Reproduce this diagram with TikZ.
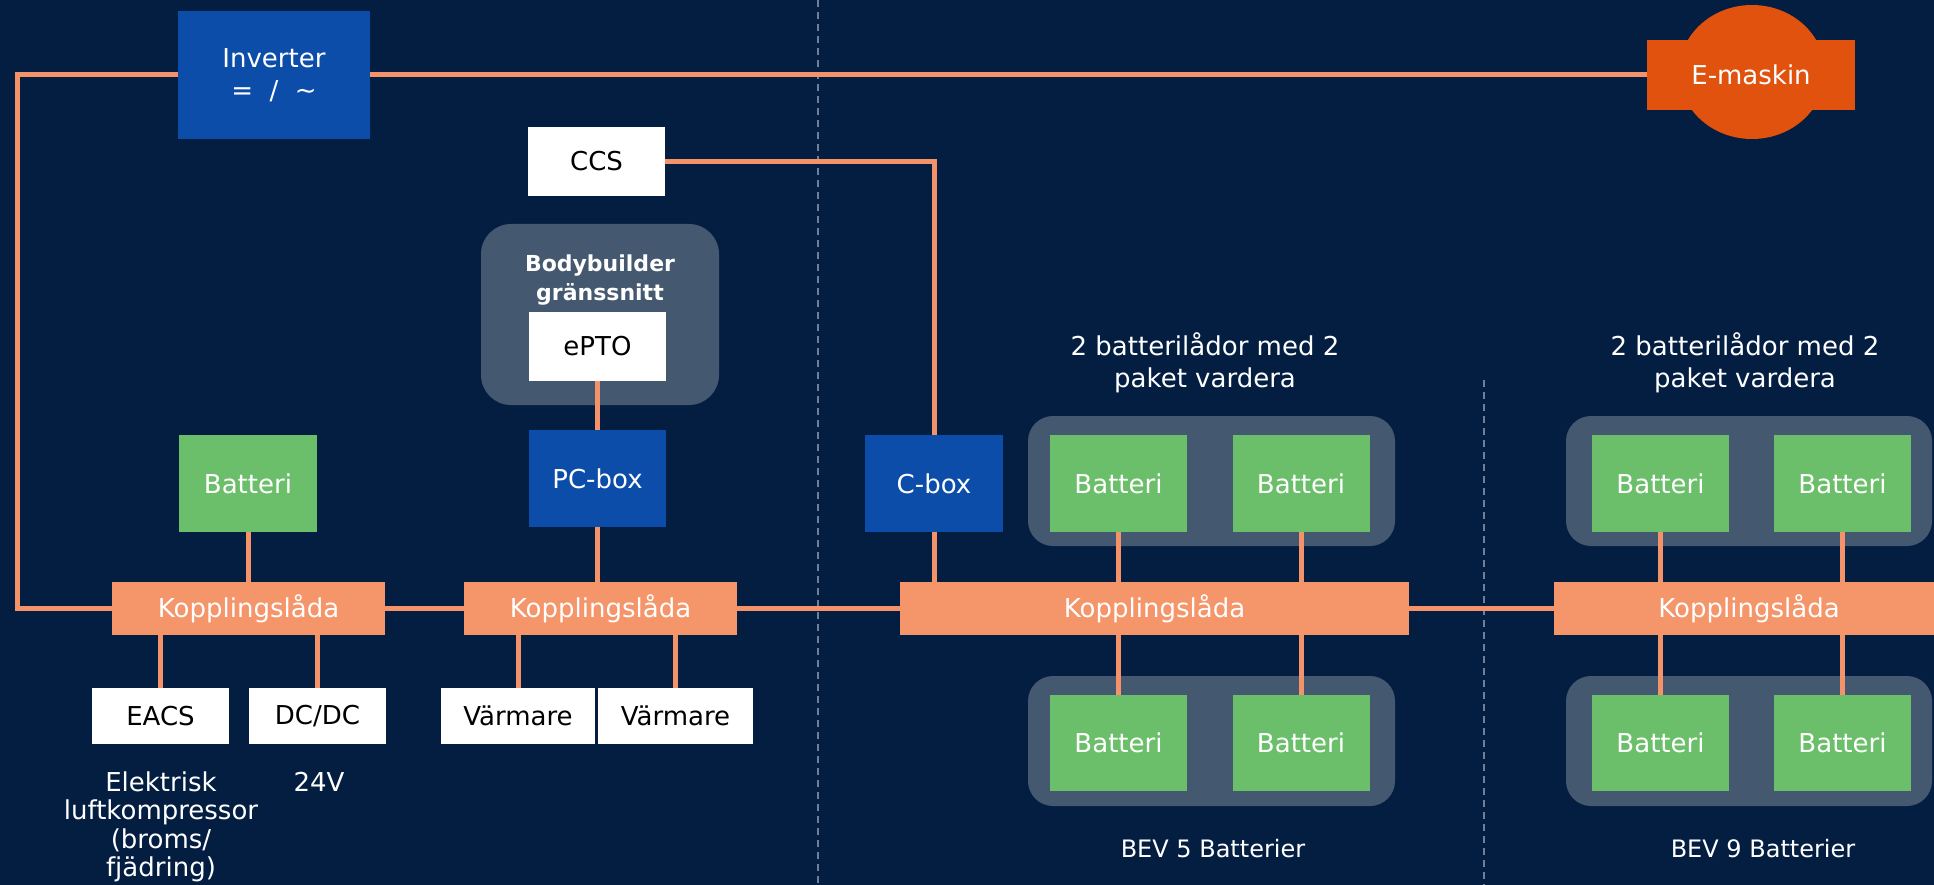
\documentclass[tikz,border=0pt]{standalone}
\usepackage{fontspec}
\setmainfont{DejaVu Sans}
\usetikzlibrary{shapes.geometric}
\definecolor{bgc}{HTML}{041E42}
\definecolor{lineor}{HTML}{F4926A}
\definecolor{klfill}{HTML}{F4956A}
\definecolor{bluec}{HTML}{0D4DAA}
\definecolor{greenc}{HTML}{6BBF6A}
\definecolor{greyc}{HTML}{44586F}
\definecolor{emc}{HTML}{E1520F}
\definecolor{dashc}{HTML}{6F7F99}
\begin{document}
\begin{tikzpicture}[x=1pt,y=-1pt,
  base/.style={rectangle, inner sep=0pt, align=center, font=\fontsize{26}{32}\selectfont},
  bluebox/.style={base, fill=bluec, text=white},
  greenbox/.style={base, fill=greenc, text=white, minimum width=137pt, minimum height=97pt},
  whitebox/.style={base, fill=white, text=black},
  klbox/.style={base, fill=klfill, text=white, minimum height=53pt},
  grp/.style={rectangle, fill=greyc, inner sep=0pt},
  conn/.style={draw=lineor, line width=5pt},
  dashline/.style={draw=dashc, line width=1.2pt, dash pattern=on 7pt off 5pt},
  lbl/.style={align=center, text=white, inner sep=0pt, font=\fontsize{26}{32}\selectfont},
  lblsm/.style={align=center, text=white, inner sep=0pt, font=\fontsize{24}{28}\selectfont},
  lblmid/.style={align=center, text=white, inner sep=0pt, font=\fontsize{26}{28.5}\selectfont}]
\useasboundingbox (0,0) rectangle (1934,885);
\clip (0,0) rectangle (1934,885);
\fill[bgc] (0,0) rectangle (1934,885);
% dashed separators
\draw[dashline] (818,0) -- (818,885);
\draw[dashline] (1484,380) -- (1484,885);
% group backgrounds
\node[grp, rounded corners=30pt, minimum width=238pt, minimum height=181pt] (bb) at (600,314.5) {};
\node[grp, rounded corners=25pt, minimum width=367pt, minimum height=130pt] (g1t) at (1211.5,481) {};
\node[grp, rounded corners=25pt, minimum width=367pt, minimum height=130pt] (g1b) at (1211.5,741) {};
\node[grp, rounded corners=25pt, minimum width=366pt, minimum height=130pt] (g2t) at (1749,481) {};
\node[grp, rounded corners=25pt, minimum width=366pt, minimum height=130pt] (g2b) at (1749,741) {};
% top row
\node[bluebox, minimum width=192pt, minimum height=128pt] (inv) at (274,75) {Inverter\\= \ / \ \textasciitilde};
\node[ellipse, fill=emc, minimum width=146pt, minimum height=134pt, inner sep=0pt] (emc) at (1752,72) {};
\node[base, fill=emc, text=white, minimum width=208pt, minimum height=70pt] (em) at (1751,75) {E-maskin};
\node[whitebox, minimum width=137pt, minimum height=69pt] (ccs) at (596.5,161.5) {CCS};
% bodybuilder
\node[align=center, text=white, inner sep=0pt, font=\bfseries\fontsize{22}{29.5}\selectfont] (bbt) at (600,280) {Bodybuilder\\gränssnitt};
\node[whitebox, minimum width=137pt, minimum height=69pt] (epto) at (597.5,346.5) {ePTO};
\node[bluebox, minimum width=137pt, minimum height=97pt] (pcbox) at (597.5,478.5) {PC-box};
% left part
\node[greenbox, minimum width=138pt] (bat0) at (248,483.5) {Batteri};
\node[klbox, minimum width=273pt] (kl1) at (248.5,608.5) {Kopplingslåda};
\node[klbox, minimum width=273pt] (kl2) at (600.5,608.5) {Kopplingslåda};
\node[whitebox, minimum width=137pt, minimum height=56pt] (eacs) at (160.5,716) {EACS};
\node[whitebox, minimum width=137pt, minimum height=56pt] (dcdc) at (317.5,716) {DC/DC};
\node[whitebox, minimum width=154pt, minimum height=56pt] (varm1) at (518,716) {Värmare};
\node[whitebox, minimum width=155pt, minimum height=56pt] (varm2) at (675.5,716) {Värmare};
\node[lblmid] (ek) at (161,827) {Elektrisk\\luftkompressor\\(broms/\\fjädring)};
\node[lblmid] (v24) at (319,782) {24V};
% middle part
\node[bluebox, minimum width=138pt, minimum height=97pt] (cbox) at (934,483.5) {C-box};
\node[klbox, minimum width=509pt] (kl3) at (1154.5,608.5) {Kopplingslåda};
\node[greenbox] (b1) at (1118.5,483.5) {Batteri};
\node[greenbox] (b2) at (1301,483.5) {Batteri};
\node[greenbox, minimum height=96pt] (b3) at (1118.5,743) {Batteri};
\node[greenbox, minimum height=96pt] (b4) at (1301,743) {Batteri};
\node[lbl] (t1) at (1205,363) {2 batterilådor med 2\\paket vardera};
\node[lblsm] (bev5) at (1213,849) {BEV 5 Batterier};
% right part
\node[klbox, minimum width=390pt] (kl4) at (1749,608.5) {Kopplingslåda};
\node[greenbox] (b5) at (1660.5,483.5) {Batteri};
\node[greenbox] (b6) at (1842.5,483.5) {Batteri};
\node[greenbox, minimum height=96pt] (b7) at (1660.5,743) {Batteri};
\node[greenbox, minimum height=96pt] (b8) at (1842.5,743) {Batteri};
\node[lbl] (t2) at (1745,363) {2 batterilådor med 2\\paket vardera};
\node[lblsm] (bev9) at (1763,849) {BEV 9 Batterier};
% connectors
\draw[conn] (inv.west) -- ++(-160,0) |- (kl1.west);
\draw[conn] (inv.east) -- (em.west);
\draw[conn] (ccs.east) -| (cbox.north);
\draw[conn] (cbox.south) -- (cbox.south |- kl3.north);
\draw[conn] (epto.south) -- (pcbox.north);
\draw[conn] (pcbox.south) -- (pcbox.south |- kl2.north);
\draw[conn] (bat0.south) -- (bat0.south |- kl1.north);
\draw[conn] (kl1.east) -- (kl2.west);
\draw[conn] (kl2.east) -- (kl3.west);
\draw[conn] (kl3.east) -- (kl4.west);
\draw[conn] (eacs.north) -- (eacs.north |- kl1.south);
\draw[conn] (dcdc.north) -- (dcdc.north |- kl1.south);
\draw[conn] (varm1.north) -- (varm1.north |- kl2.south);
\draw[conn] (varm2.north) -- (varm2.north |- kl2.south);
\draw[conn] (b1.south) -- (b1.south |- kl3.north);
\draw[conn] (b2.south) -- (b2.south |- kl3.north);
\draw[conn] (b3.north) -- (b3.north |- kl3.south);
\draw[conn] (b4.north) -- (b4.north |- kl3.south);
\draw[conn] (b5.south) -- (b5.south |- kl4.north);
\draw[conn] (b6.south) -- (b6.south |- kl4.north);
\draw[conn] (b7.north) -- (b7.north |- kl4.south);
\draw[conn] (b8.north) -- (b8.north |- kl4.south);
\end{tikzpicture}
\end{document}
